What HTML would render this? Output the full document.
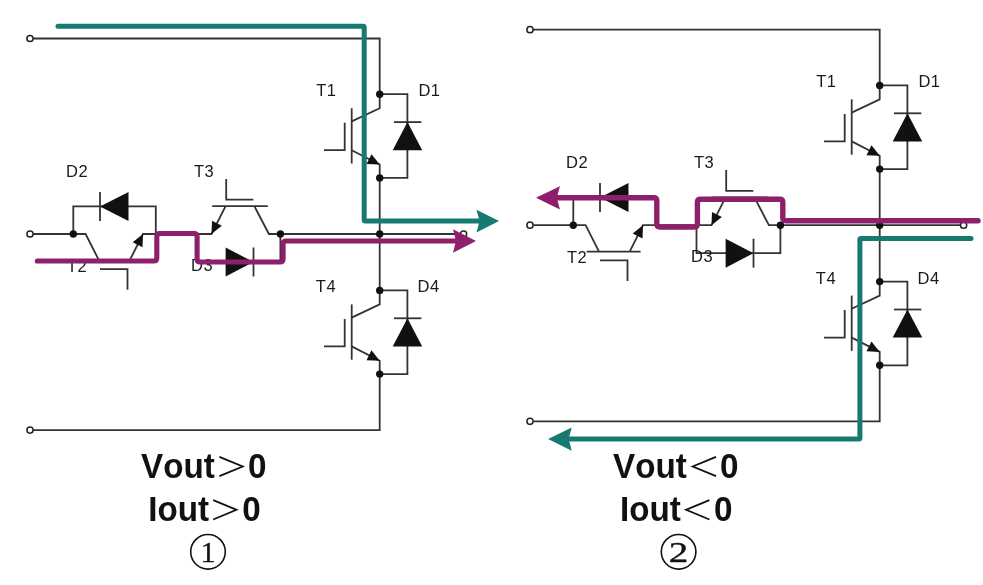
<!DOCTYPE html>
<html><head><meta charset="utf-8"><style>
html,body{margin:0;padding:0;background:#fff;}
body{width:983px;height:585px;overflow:hidden;}
svg{display:block;will-change:transform;}
</style></head><body>
<svg width="983" height="585" viewBox="0 0 983 585">
<rect width="983" height="585" fill="#fff"/>
<g>
<path d="M33.3 38.5 H379.7 V94.2" fill="none" stroke="#333" stroke-width="1.8"/>
<path d="M379.7 177.9 V290.4" fill="none" stroke="#333" stroke-width="1.8"/>
<path d="M379.7 374.1 V430.1 H33.3" fill="none" stroke="#333" stroke-width="1.8"/>
<path d="M379.7 94.2 V108.2 L351.7 121.4" fill="none" stroke="#333" stroke-width="1.8"/>
<path d="M351.7 108.2 V163.5" fill="none" stroke="#333" stroke-width="1.8"/>
<path d="M324 150.2 H344.7 V122.7" fill="none" stroke="#333" stroke-width="1.8"/>
<path d="M351.7 150.2 L379.7 164.5 V177.9" fill="none" stroke="#333" stroke-width="1.8"/>
<polygon points="379.70,164.50 366.51,163.94 371.51,154.14" fill="#111"/>
<path d="M379.7 94.2 H407.4 V177.9 H379.7" fill="none" stroke="#333" stroke-width="1.8"/>
<path d="M394 122.1 H421.3" fill="none" stroke="#333" stroke-width="1.8"/>
<polygon points="392.7,150.2 422.2,150.2 407.45,122.1" fill="#111"/>
<circle cx="379.7" cy="94.2" r="3.7" fill="#111"/>
<circle cx="379.7" cy="177.9" r="3.7" fill="#111"/>
<text x="316.2" y="96.2" font-family="Liberation Sans, sans-serif" font-size="16.5" fill="#1a1a1a" letter-spacing="0.5">T1</text>
<text x="418.4" y="96.2" font-family="Liberation Sans, sans-serif" font-size="16.5" fill="#1a1a1a" letter-spacing="0.5">D1</text>
<path d="M379.7 290.4 V304.4 L351.7 317.59999999999997" fill="none" stroke="#333" stroke-width="1.8"/>
<path d="M351.7 304.4 V359.7" fill="none" stroke="#333" stroke-width="1.8"/>
<path d="M324 346.4 H344.7 V318.9" fill="none" stroke="#333" stroke-width="1.8"/>
<path d="M351.7 346.4 L379.7 360.7 V374.09999999999997" fill="none" stroke="#333" stroke-width="1.8"/>
<polygon points="379.70,360.70 366.51,360.14 371.51,350.34" fill="#111"/>
<path d="M379.7 290.4 H407.4 V374.09999999999997 H379.7" fill="none" stroke="#333" stroke-width="1.8"/>
<path d="M394 318.29999999999995 H421.3" fill="none" stroke="#333" stroke-width="1.8"/>
<polygon points="392.7,346.4 422.2,346.4 407.45,318.29999999999995" fill="#111"/>
<circle cx="379.7" cy="290.4" r="3.7" fill="#111"/>
<circle cx="379.7" cy="374.09999999999997" r="3.7" fill="#111"/>
<text x="315.8" y="292.4" font-family="Liberation Sans, sans-serif" font-size="16.5" fill="#1a1a1a" letter-spacing="0.5">T4</text>
<text x="417.6" y="292.4" font-family="Liberation Sans, sans-serif" font-size="16.5" fill="#1a1a1a" letter-spacing="0.5">D4</text>
<path d="M33.3 234 H85.6 L99 260.4" fill="none" stroke="#333" stroke-width="1.8"/>
<path d="M73.3 234 V206.4 H155.8 V234" fill="none" stroke="#333" stroke-width="1.8"/>
<path d="M100 191.9 V220.9" fill="none" stroke="#333" stroke-width="1.8"/>
<polygon points="100,206.4 128.5,191.9 128.5,220.9" fill="#111"/>
<path d="M86.6 260.4 H140.6" fill="none" stroke="#333" stroke-width="1.8"/>
<path d="M129.7 260.4 L143 234 H196.5 V262 H280.4 V234" fill="none" stroke="#333" stroke-width="1.8"/>
<polygon points="143.00,234.00 142.51,247.19 132.69,242.24" fill="#111"/>
<path d="M100 269.2 H127.5 V289.7" fill="none" stroke="#333" stroke-width="1.8"/>
<circle cx="73.3" cy="234" r="3.7" fill="#111"/>
<path d="M196.5 234 H211.5 L225.6 206.2" fill="none" stroke="#333" stroke-width="1.8"/>
<path d="M212.2 206.2 H267.8" fill="none" stroke="#333" stroke-width="1.8"/>
<path d="M254.4 206.2 L268.9 234 H460" fill="none" stroke="#333" stroke-width="1.8"/>
<polygon points="211.50,234.00 212.02,220.81 221.83,225.79" fill="#111"/>
<path d="M226.2 178.9 V199.6 H253.3" fill="none" stroke="#333" stroke-width="1.8"/>
<polygon points="225.6,247.5 225.6,276.5 253.5,262" fill="#111"/>
<path d="M253.5 247.5 V276.5" fill="none" stroke="#333" stroke-width="1.8"/>
<circle cx="280.4" cy="234" r="3.7" fill="#111"/>
<circle cx="379.7" cy="234" r="3.7" fill="#111"/>
<text x="66" y="177" font-family="Liberation Sans, sans-serif" font-size="16.5" fill="#1a1a1a" letter-spacing="0.5">D2</text>
<text x="67" y="271.6" font-family="Liberation Sans, sans-serif" font-size="16.5" fill="#1a1a1a" letter-spacing="0.5">T2</text>
<text x="194" y="176.7" font-family="Liberation Sans, sans-serif" font-size="16.5" fill="#1a1a1a" letter-spacing="0.5">T3</text>
<text x="191" y="271" font-family="Liberation Sans, sans-serif" font-size="16.5" fill="#1a1a1a" letter-spacing="0.5">D3</text>
<circle cx="30" cy="38.5" r="3.1" fill="#fff" stroke="#222" stroke-width="1.5"/>
<circle cx="30" cy="234" r="3.1" fill="#fff" stroke="#222" stroke-width="1.5"/>
<circle cx="30" cy="430.1" r="3.1" fill="#fff" stroke="#222" stroke-width="1.5"/>
<circle cx="463.6" cy="234" r="3.1" fill="#fff" stroke="#222" stroke-width="1.5"/>
</g>
<g transform="translate(500,-8.8)">
<path d="M33.3 38.5 H379.7 V94.2" fill="none" stroke="#333" stroke-width="1.8"/>
<path d="M379.7 177.9 V290.4" fill="none" stroke="#333" stroke-width="1.8"/>
<path d="M379.7 374.1 V430.1 H33.3" fill="none" stroke="#333" stroke-width="1.8"/>
<path d="M379.7 94.2 V108.2 L351.7 121.4" fill="none" stroke="#333" stroke-width="1.8"/>
<path d="M351.7 108.2 V163.5" fill="none" stroke="#333" stroke-width="1.8"/>
<path d="M324 150.2 H344.7 V122.7" fill="none" stroke="#333" stroke-width="1.8"/>
<path d="M351.7 150.2 L379.7 164.5 V177.9" fill="none" stroke="#333" stroke-width="1.8"/>
<polygon points="379.70,164.50 366.51,163.94 371.51,154.14" fill="#111"/>
<path d="M379.7 94.2 H407.4 V177.9 H379.7" fill="none" stroke="#333" stroke-width="1.8"/>
<path d="M394 122.1 H421.3" fill="none" stroke="#333" stroke-width="1.8"/>
<polygon points="392.7,150.2 422.2,150.2 407.45,122.1" fill="#111"/>
<circle cx="379.7" cy="94.2" r="3.7" fill="#111"/>
<circle cx="379.7" cy="177.9" r="3.7" fill="#111"/>
<text x="316.2" y="96.2" font-family="Liberation Sans, sans-serif" font-size="16.5" fill="#1a1a1a" letter-spacing="0.5">T1</text>
<text x="418.4" y="96.2" font-family="Liberation Sans, sans-serif" font-size="16.5" fill="#1a1a1a" letter-spacing="0.5">D1</text>
<path d="M379.7 290.4 V304.4 L351.7 317.59999999999997" fill="none" stroke="#333" stroke-width="1.8"/>
<path d="M351.7 304.4 V359.7" fill="none" stroke="#333" stroke-width="1.8"/>
<path d="M324 346.4 H344.7 V318.9" fill="none" stroke="#333" stroke-width="1.8"/>
<path d="M351.7 346.4 L379.7 360.7 V374.09999999999997" fill="none" stroke="#333" stroke-width="1.8"/>
<polygon points="379.70,360.70 366.51,360.14 371.51,350.34" fill="#111"/>
<path d="M379.7 290.4 H407.4 V374.09999999999997 H379.7" fill="none" stroke="#333" stroke-width="1.8"/>
<path d="M394 318.29999999999995 H421.3" fill="none" stroke="#333" stroke-width="1.8"/>
<polygon points="392.7,346.4 422.2,346.4 407.45,318.29999999999995" fill="#111"/>
<circle cx="379.7" cy="290.4" r="3.7" fill="#111"/>
<circle cx="379.7" cy="374.09999999999997" r="3.7" fill="#111"/>
<text x="315.8" y="292.4" font-family="Liberation Sans, sans-serif" font-size="16.5" fill="#1a1a1a" letter-spacing="0.5">T4</text>
<text x="417.6" y="292.4" font-family="Liberation Sans, sans-serif" font-size="16.5" fill="#1a1a1a" letter-spacing="0.5">D4</text>
<path d="M33.3 234 H85.6 L99 260.4" fill="none" stroke="#333" stroke-width="1.8"/>
<path d="M73.3 234 V206.4 H155.8 V234" fill="none" stroke="#333" stroke-width="1.8"/>
<path d="M100 191.9 V220.9" fill="none" stroke="#333" stroke-width="1.8"/>
<polygon points="100,206.4 128.5,191.9 128.5,220.9" fill="#111"/>
<path d="M86.6 260.4 H140.6" fill="none" stroke="#333" stroke-width="1.8"/>
<path d="M129.7 260.4 L143 234 H196.5 V262 H280.4 V234" fill="none" stroke="#333" stroke-width="1.8"/>
<polygon points="143.00,234.00 142.51,247.19 132.69,242.24" fill="#111"/>
<path d="M100 269.2 H127.5 V289.7" fill="none" stroke="#333" stroke-width="1.8"/>
<circle cx="73.3" cy="234" r="3.7" fill="#111"/>
<path d="M196.5 234 H211.5 L225.6 206.2" fill="none" stroke="#333" stroke-width="1.8"/>
<path d="M212.2 206.2 H267.8" fill="none" stroke="#333" stroke-width="1.8"/>
<path d="M254.4 206.2 L268.9 234 H460" fill="none" stroke="#333" stroke-width="1.8"/>
<polygon points="211.50,234.00 212.02,220.81 221.83,225.79" fill="#111"/>
<path d="M226.2 178.9 V199.6 H253.3" fill="none" stroke="#333" stroke-width="1.8"/>
<polygon points="225.6,247.5 225.6,276.5 253.5,262" fill="#111"/>
<path d="M253.5 247.5 V276.5" fill="none" stroke="#333" stroke-width="1.8"/>
<circle cx="280.4" cy="234" r="3.7" fill="#111"/>
<circle cx="379.7" cy="234" r="3.7" fill="#111"/>
<text x="66" y="177" font-family="Liberation Sans, sans-serif" font-size="16.5" fill="#1a1a1a" letter-spacing="0.5">D2</text>
<text x="67" y="271.6" font-family="Liberation Sans, sans-serif" font-size="16.5" fill="#1a1a1a" letter-spacing="0.5">T2</text>
<text x="194" y="176.7" font-family="Liberation Sans, sans-serif" font-size="16.5" fill="#1a1a1a" letter-spacing="0.5">T3</text>
<text x="191" y="271" font-family="Liberation Sans, sans-serif" font-size="16.5" fill="#1a1a1a" letter-spacing="0.5">D3</text>
<circle cx="30" cy="38.5" r="3.1" fill="#fff" stroke="#222" stroke-width="1.5"/>
<circle cx="30" cy="234" r="3.1" fill="#fff" stroke="#222" stroke-width="1.5"/>
<circle cx="30" cy="430.1" r="3.1" fill="#fff" stroke="#222" stroke-width="1.5"/>
<circle cx="463.6" cy="234" r="3.1" fill="#fff" stroke="#222" stroke-width="1.5"/>
</g>
<path d="M58 26.3 L363.20 26.30 Q364.2 26.3 364.20 27.30 L364.20 220.10 Q364.2 221.1 365.20 221.10 L480 221.1" fill="none" stroke="#167a70" stroke-width="5" stroke-linecap="round" stroke-linejoin="round"/>
<polygon points="476.5,209.8 499,221.1 476.5,232.4 479.5,221.1" fill="#167a70"/>
<path d="M37.3 261 L153.80 261.00 Q156.8 261 156.80 258.00 L156.80 236.50 Q156.8 233.5 159.80 233.50 L194.10 233.50 Q197.1 233.5 197.10 236.50 L197.10 259.00 Q197.1 262 200.10 262.00 L280.10 262.00 Q283.1 262 283.10 259.00 L283.10 244.00 Q283.1 241 286.10 241.00 L458 241" fill="none" stroke="#8e1f6a" stroke-width="5.1" stroke-linecap="round" stroke-linejoin="round"/>
<polygon points="453,229.2 476,241 453,252.8 456,241" fill="#8e1f6a"/>
<path d="M971 238.4 L860.90 238.40 Q859.9 238.4 859.90 239.40 L859.90 438.10 Q859.9 439.1 858.90 439.10 L570 439.1" fill="none" stroke="#167a70" stroke-width="5" stroke-linecap="round" stroke-linejoin="round"/>
<polygon points="571.7,427.5 548.1,439.1 571.7,450.7 568.7,439.1" fill="#167a70"/>
<path d="M978 220.7 L785.80 220.70 Q782.8 220.7 782.80 217.70 L782.80 202.30 Q782.8 199.3 779.80 199.30 L700.40 199.30 Q697.4 199.3 697.40 202.30 L697.40 224.00 Q697.4 227 694.40 227.00 L659.80 227.00 Q656.8 227 656.80 224.00 L656.80 200.80 Q656.8 197.8 653.80 197.80 L558 197.8" fill="none" stroke="#8e1f6a" stroke-width="5.4" stroke-linecap="round" stroke-linejoin="round"/>
<polygon points="559.9,186.2 536,197.8 559.9,209.4 556.9,197.8" fill="#8e1f6a"/>
<g font-family="Liberation Sans, sans-serif" font-weight="bold" font-size="33.2" fill="#111" style="font-kerning:none">
<g transform="translate(0 477.7) scale(1 1.06) translate(0 -477.7)"><text x="141" y="477.7">Vout</text><text x="248" y="477.7">0</text></g>
<g transform="translate(0 521) scale(1 1.06) translate(0 -521)"><text x="148.3" y="521">Iout</text><text x="242.2" y="521">0</text></g>
<g transform="translate(0 477.7) scale(1 1.06) translate(0 -477.7)"><text x="613" y="477.7">Vout</text><text x="720" y="477.7">0</text></g>
<g transform="translate(0 521) scale(1 1.06) translate(0 -521)"><text x="620" y="521">Iout</text><text x="714" y="521">0</text></g>
</g>
<polyline points="219.4,456.8 242.70000000000002,466.5 219.4,476.2" fill="none" stroke="#111" stroke-width="1.8" stroke-miterlimit="10"/>
<polyline points="213.2,500.09999999999997 236.5,509.79999999999995 213.2,519.5" fill="none" stroke="#111" stroke-width="1.8" stroke-miterlimit="10"/>
<polyline points="716.0,456.8 692.7,466.5 716.0,476.2" fill="none" stroke="#111" stroke-width="1.8" stroke-miterlimit="10"/>
<polyline points="709.4,500.09999999999997 686.1,509.79999999999995 709.4,519.5" fill="none" stroke="#111" stroke-width="1.8" stroke-miterlimit="10"/>
<circle cx="208" cy="551.8" r="17.3" fill="none" stroke="#111" stroke-width="1.6"/>
<circle cx="678.6" cy="551.8" r="17.3" fill="none" stroke="#111" stroke-width="1.6"/>
<g font-family="Liberation Serif, serif" font-size="30" fill="#111" stroke="#111" stroke-width="0.35" text-anchor="middle">
<text x="208" y="562.4">1</text><text x="678.6" y="562.2" transform="translate(678.6 0) scale(1.3 1) translate(-678.6 0)">2</text></g>
</svg>
</body></html>
